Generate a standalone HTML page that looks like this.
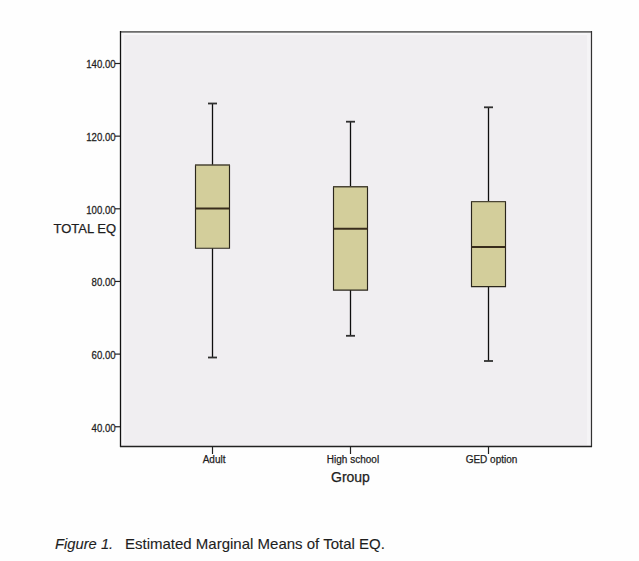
<!DOCTYPE html>
<html><head><meta charset="utf-8">
<style>
html,body{margin:0;padding:0;background:#fefefe;width:639px;height:561px;overflow:hidden}
svg{display:block}
text{font-family:"Liberation Sans",sans-serif;fill:#1e1e1e;stroke:#1e1e1e;stroke-width:0.25px}
</style></head>
<body>
<svg width="639" height="561" viewBox="0 0 639 561">
<rect x="0" y="0" width="639" height="561" fill="#fefefe"/>
<!-- plot area -->
<rect x="120.5" y="32" width="470.5" height="414.5" fill="#f0eef1"/>
<!-- frame -->
<rect x="121" y="33" width="469" height="2" fill="#f7f6f8"/>
<rect x="121" y="33" width="3" height="412" fill="#f5f4f6"/>
<rect x="587" y="33" width="3" height="412" fill="#f5f4f6"/>
<line x1="120" y1="31.5" x2="592" y2="31.5" stroke="#6c6c6c" stroke-width="1"/>
<line x1="120" y1="32.5" x2="592" y2="32.5" stroke="#8e8e8e" stroke-width="1"/>
<line x1="591.5" y1="31" x2="591.5" y2="447" stroke="#333" stroke-width="1.2"/>
<line x1="120.5" y1="31" x2="120.5" y2="447" stroke="#111" stroke-width="1.3"/>
<line x1="120" y1="446.5" x2="592" y2="446.5" stroke="#222" stroke-width="1.4"/>

<!-- y ticks -->
<g stroke="#222" stroke-width="1.2">
<line x1="115" y1="63.5" x2="120" y2="63.5"/>
<line x1="115" y1="136.15" x2="120" y2="136.15"/>
<line x1="115" y1="208.8" x2="120" y2="208.8"/>
<line x1="115" y1="281.45" x2="120" y2="281.45"/>
<line x1="115" y1="354.1" x2="120" y2="354.1"/>
<line x1="115" y1="426.75" x2="120" y2="426.75"/>
</g>
<g font-size="10" text-anchor="end" transform="translate(115.6,0) scale(0.96,1)">
<text x="0" y="68.30">140.00</text>
<text x="0" y="140.95">120.00</text>
<text x="0" y="213.60">100.00</text>
<text x="0" y="286.25">80.00</text>
<text x="0" y="358.90">60.00</text>
<text x="0" y="431.55">40.00</text>
</g>
<text x="53.5" y="232.7" font-size="13">TOTAL EQ</text>

<!-- x ticks -->
<g stroke="#222" stroke-width="1.2">
<line x1="212.5" y1="446" x2="212.5" y2="454"/>
<line x1="350.5" y1="446" x2="350.5" y2="454"/>
<line x1="488.5" y1="446" x2="488.5" y2="454"/>
</g>
<g font-size="10" text-anchor="middle">
<text x="214.1" y="463.3">Adult</text>
<text x="353" y="463.1">High school</text>
<text x="491.5" y="463.1">GED option</text>
</g>
<text x="331" y="482" font-size="14">Group</text>

<!-- boxes -->
<g stroke="#0e0e0e" stroke-width="1.3" fill="none">
<!-- Adult -->
<line x1="212.5" y1="103.5" x2="212.5" y2="165"/>
<line x1="212.5" y1="248.2" x2="212.5" y2="357.5"/>
<line x1="208" y1="103.5" x2="217" y2="103.5" stroke-width="1.8" stroke="#303030"/>
<line x1="208" y1="357.5" x2="217" y2="357.5" stroke-width="1.8" stroke="#303030"/>
<!-- HS -->
<line x1="350.5" y1="121.7" x2="350.5" y2="187"/>
<line x1="350.5" y1="290" x2="350.5" y2="335.8"/>
<line x1="346" y1="121.7" x2="355" y2="121.7" stroke-width="1.8" stroke="#303030"/>
<line x1="346" y1="335.8" x2="355" y2="335.8" stroke-width="1.8" stroke="#303030"/>
<!-- GED -->
<line x1="488.5" y1="107.3" x2="488.5" y2="201"/>
<line x1="488.5" y1="287" x2="488.5" y2="361"/>
<line x1="484" y1="107.3" x2="493" y2="107.3" stroke-width="1.8" stroke="#303030"/>
<line x1="484" y1="361" x2="493" y2="361" stroke-width="1.8" stroke="#303030"/>
</g>
<g fill="#d3ce9b">
<rect x="195.5" y="165.0" width="34.0" height="83.2"/>
<rect x="333.5" y="186.8" width="34.0" height="103.3"/>
<rect x="471.5" y="201.6" width="34.0" height="85.0"/>
</g>
<g fill="none" stroke="#2a261c" stroke-width="1.15">
<path d="M195.5 165.0 V248.2 H229.5 V165.0"/>
<path d="M333.5 186.8 V290.1 H367.5 V186.8"/>
<path d="M471.5 201.6 V286.6 H505.5 V201.6"/>
</g>
<g stroke="#4a4535" stroke-width="1.4">
<line x1="195.0" y1="165.0" x2="230.0" y2="165.0"/>
<line x1="333.0" y1="186.8" x2="368.0" y2="186.8"/>
<line x1="471.0" y1="201.6" x2="506.0" y2="201.6"/>
</g>
<g stroke="#382c1c" stroke-width="2">
<line x1="195.5" y1="208.6" x2="229.5" y2="208.6"/>
<line x1="333.5" y1="228.8" x2="367.5" y2="228.8"/>
<line x1="471.5" y1="246.9" x2="505.5" y2="246.9"/>
</g>

<!-- caption -->
<text x="55" y="548.9" font-size="14.75" font-style="italic" style="stroke-width:0.12px">Figure 1.</text>
<text x="125" y="548.9" font-size="15" style="stroke-width:0.12px">Estimated Marginal Means of Total EQ.</text>
</svg>
</body></html>
